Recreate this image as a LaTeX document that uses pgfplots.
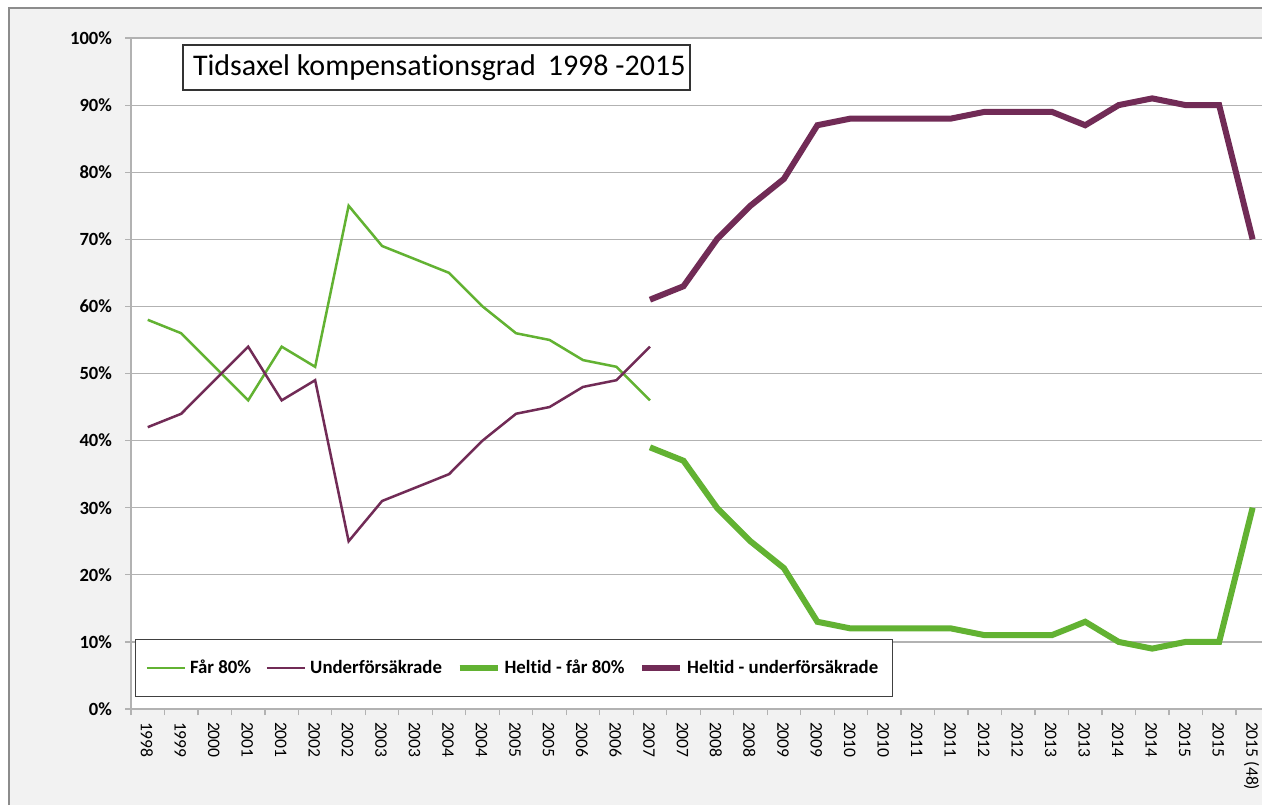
\documentclass[border=0pt]{standalone}
\usepackage{pgfplots}
\pgfplotsset{compat=1.18}
\usepackage{fontspec}
\setmainfont[Ligatures=NoCommon]{Carlito}
\definecolor{cgreen}{RGB}{98,178,50}
\definecolor{cpurple}{RGB}{113,43,86}
\definecolor{bgc}{RGB}{242,242,242}
\definecolor{gridc}{RGB}{178,178,178}
\begin{document}
\begin{tikzpicture}[x=1pt,y=1pt]
\useasboundingbox (0,0) rectangle (631,402.5);
\fill[white] (0,0) rectangle (631,402.5);
\fill[bgc] (4.5,0) rectangle (631,398.5);
\draw[black!45, line width=0.8pt] (4.5,0) -- (4.5,398.5) -- (631,398.5);
\begin{axis}[
  at={(65.5pt,48pt)}, anchor=south west,
  scale only axis, width=565.5pt, height=335.5pt,
  xmin=-0.5, xmax=33.28, ymin=0, ymax=100,
  axis background/.style={fill=white},
  axis x line*=bottom, axis y line*=left,
  axis line style={gridc, line width=0.8pt},
  clip=false,
  ytick={0,10,...,100},
  yticklabels={0\%,10\%,20\%,30\%,40\%,50\%,60\%,70\%,80\%,90\%,100\%},
  yticklabel style={font=\bfseries\fontsize{9.3}{10}\selectfont, xshift=-3pt},
  ymajorgrids, grid style={gridc, line width=0.6pt},
  tick align=outside,
  major tick length=3pt,
  minor tick length=3pt,
  major y tick style={gridc, line width=0.6pt},
  xtick={0,...,33},
  xticklabels={1998,1999,2000,2001,2001,2002,2002,2003,2003,2004,2004,2005,2005,2006,2006,2007,2007,2008,2008,2009,2009,2010,2010,2011,2011,2012,2012,2013,2013,2014,2014,2015,2015,2015 (48)},
  major x tick style={draw=none},
  minor xtick={-0.5,0.5,...,33.5},
  minor x tick style={gridc, line width=0.6pt},
  xticklabel style={rotate=-90, anchor=west, font=\fontsize{8.8}{10}\selectfont, yshift=-0.5pt},
  legend columns=4,
  legend style={at={(0.0035,0.018)}, anchor=south west, draw=black!75, line width=0.6pt,
    font=\bfseries\fontsize{9.4}{10}\selectfont, inner xsep=5pt, inner ysep=8pt,
    /tikz/every even column/.append style={column sep=5.3pt}},
  legend image code/.code={\draw[#1] (0pt,0pt) -- (19pt,0pt);},
]
\addplot[cgreen, line width=1.25pt] coordinates {
(0,58)(1,56)(2,51)(3,46)(4,54)(5,51)(6,75)(7,69)(8,67)(9,65)(10,60)(11,56)(12,55)(13,52)(14,51)(15,46)};
\addlegendentry{Får 80\%}
\addplot[cpurple, line width=1.25pt] coordinates {
(0,42)(1,44)(2,49)(3,54)(4,46)(5,49)(6,25)(7,31)(8,33)(9,35)(10,40)(11,44)(12,45)(13,48)(14,49)(15,54)};
\addlegendentry{Underförsäkrade}
\addplot[cgreen, line width=3pt] coordinates {
(15,39)(16,37)(17,30)(18,25)(19,21)(20,13)(21,12)(22,12)(23,12)(24,12)(25,11)(26,11)(27,11)(28,13)(29,10)(30,9)(31,10)(32,10)(33,30)};
\addlegendentry{Heltid - får 80\%}
\addplot[cpurple, line width=3pt] coordinates {
(15,61)(16,63)(17,70)(18,75)(19,79)(20,87)(21,88)(22,88)(23,88)(24,88)(25,89)(26,89)(27,89)(28,87)(29,90)(30,91)(31,90)(32,90)(33,70)};
\addlegendentry{Heltid - underförsäkrade}
\end{axis}
\node[draw=black!80, fill=white, line width=0.6pt, minimum height=22.5pt, inner xsep=5pt, font=\fontsize{15}{17}\selectfont] at (218.25,368.75) {\makebox[243.5pt][l]{Tidsaxel kompensationsgrad\hspace{0.4em}1998 -2015}};
\end{tikzpicture}
\end{document}
